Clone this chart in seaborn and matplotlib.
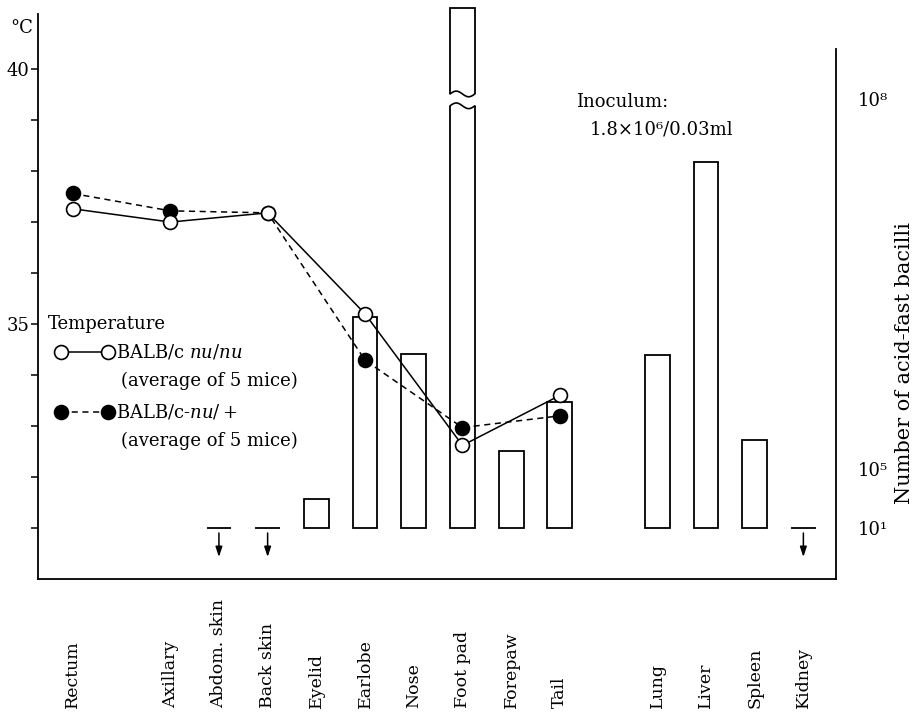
import numpy as np
import pandas as pd
import matplotlib
matplotlib.use('Agg')
import matplotlib.pyplot as plt
from matplotlib.patches import Rectangle
from matplotlib.transforms import blended_transform_factory, offset_copy
import seaborn as sns

# sites along the x axis and their slot positions
sites = ['Rectum', 'Axillary', 'Abdom. skin', 'Back skin', 'Eyelid', 'Earlobe', 'Nose',
         'Foot pad', 'Forepaw', 'Tail', 'Lung', 'Liver', 'Spleen', 'Kidney']
site_pos = [0, 2, 3, 4, 5, 6, 7, 8, 9, 10, 12, 13, 14, 15]

# temperature, degrees C
temp_sites = ['Rectum', 'Axillary', 'Back skin', 'Earlobe', 'Foot pad', 'Tail']
temp_nunu = [37.26, 37.0, 37.18, 35.2, 32.62, 33.6]
temp_nuplus = [37.56, 37.22, 37.18, 34.29, 32.97, 33.2]

# number of acid-fast bacilli
bac_sites = ['Eyelid', 'Earlobe', 'Nose', 'Foot pad', 'Forepaw', 'Tail', 'Lung', 'Liver', 'Spleen']
bac_counts = [9e2, 1.7e6, 8.5e5, 5.5e8, 1.4e5, 3.5e5, 8.4e5, 3.1e7, 1.7e5]
nd_sites = ['Abdom. skin', 'Back skin', 'Kidney']   # below detection (10^1)
detect_limit = 10

right_ticks = [1e1, 1e5, 1e8]
right_ticklabels = ['10\u00b9', '10\u2075', '10\u2078']

pos = dict(zip(sites, site_pos))

sns.set_style('ticks')
plt.rcParams.update({
    'font.family': ['DejaVu Serif'],
    'mathtext.fontset': 'dejavuserif',
    'axes.edgecolor': 'black', 'text.color': 'black',
    'xtick.color': 'black', 'ytick.color': 'black',
    'axes.linewidth': 1.3,
})

fig = plt.figure(figsize=(9.23, 7.12), dpi=100)
ax = fig.add_axes([38 / 923, 1 - 579 / 712, 798 / 923, 565 / 712])
ax.set_xlim(-0.715, 15.67)
ax.set_ylim(30, 41.08)

# right axis: log counts, compressed below 10^5 (as in the original figure)
LOG_KNOTS = np.array([1.0, 5.0, 8.0])
POS_KNOTS = np.array([31.0, 32.16, 39.41])
lo_slope = (POS_KNOTS[1] - POS_KNOTS[0]) / (LOG_KNOTS[1] - LOG_KNOTS[0])
hi_slope = (POS_KNOTS[2] - POS_KNOTS[1]) / (LOG_KNOTS[2] - LOG_KNOTS[1])


def fwd(v):
    lv = np.log10(np.maximum(np.asarray(v, float), 1e-12))
    out = np.interp(lv, LOG_KNOTS, POS_KNOTS)
    out = np.where(lv < LOG_KNOTS[0], POS_KNOTS[0] + (lv - LOG_KNOTS[0]) * lo_slope, out)
    out = np.where(lv > LOG_KNOTS[-1], POS_KNOTS[-1] + (lv - LOG_KNOTS[-1]) * hi_slope, out)
    return out


def inv(p):
    p = np.asarray(p, float)
    lv = np.interp(p, POS_KNOTS, LOG_KNOTS)
    lv = np.where(p < POS_KNOTS[0], LOG_KNOTS[0] + (p - POS_KNOTS[0]) / lo_slope, lv)
    lv = np.where(p > POS_KNOTS[-1], LOG_KNOTS[-1] + (p - POS_KNOTS[-1]) / hi_slope, lv)
    return 10 ** lv


ax2 = ax.twinx()
ax2.set_yscale('function', functions=(fwd, inv))
ax2.set_ylim(float(inv(30)), float(inv(41.08)))
ax.set_zorder(ax2.get_zorder() + 1)
ax.patch.set_visible(False)

# bars
bw = 0.51
bx = [pos[s] for s in bac_sites]
ax2.bar(bx, np.array(bac_counts) - detect_limit, bottom=detect_limit, width=bw,
        facecolor='white', edgecolor='black', linewidth=1.3, clip_on=False, zorder=2)

# broken foot pad bar
bt = blended_transform_factory(ax2.transData, ax2.transAxes)
fx = pos['Foot pad']
gc, gh = 0.848, 0.0105
ax2.add_patch(Rectangle((fx - bw / 2 - 0.05, gc - gh), bw + 0.1, 2 * gh, transform=bt,
                        facecolor='white', edgecolor='none', zorder=3, clip_on=False))
wx = np.linspace(fx - bw / 2, fx + bw / 2, 40)
wave = 0.005 * np.sin(np.linspace(0, 2 * np.pi, 40))
for yc in (gc - gh, gc + gh):
    ax2.plot(wx, yc + wave, transform=bt, color='black', lw=1.2, zorder=4, clip_on=False)

# not detected sites: dash at 10^1 and arrow down
for s in nd_sites:
    x = pos[s]
    ax2.hlines(detect_limit, x - bw / 2, x + bw / 2, color='black', lw=1.3, zorder=2)
    tail = offset_copy(ax2.transData, fig=fig, y=-5, units='dots')
    head = offset_copy(ax2.transData, fig=fig, y=-29, units='dots')
    ax2.annotate('', xy=(x, detect_limit), xycoords=head,
                 xytext=(x, detect_limit), textcoords=tail,
                 arrowprops=dict(arrowstyle='-|>,head_length=0.6,head_width=0.2',
                                 color='black', lw=1.1, shrinkA=0, shrinkB=0))

# temperature lines
df_plus = pd.DataFrame({'x': [pos[s] for s in temp_sites], 't': temp_nuplus})
df_nunu = pd.DataFrame({'x': [pos[s] for s in temp_sites], 't': temp_nunu})
sns.lineplot(data=df_plus, x='x', y='t', ax=ax, color='black', lw=1.1, ls=(0, (4, 3)),
             marker='o', markersize=10, markerfacecolor='black', markeredgecolor='black',
             markeredgewidth=1.2, zorder=5)
sns.lineplot(data=df_nunu, x='x', y='t', ax=ax, color='black', lw=1.1, ls='-',
             marker='o', markersize=10, markerfacecolor='white', markeredgecolor='black',
             markeredgewidth=1.2, zorder=6)

# axes styling
ax.spines['top'].set_visible(False)
ax.spines['right'].set_visible(False)
ax2.spines['top'].set_visible(False)
ax2.spines['left'].set_visible(False)
ax2.spines['bottom'].set_visible(False)
ax2.spines['right'].set_bounds(float(inv(30)), float(inv(40.39)))
ax.set_xlabel('')
ax.set_ylabel('')
ax.set_xticks([])
ax.set_yticks([35, 40])
ax.set_yticks(np.arange(31, 41), minor=True)
ax.tick_params(axis='y', which='both', direction='out', length=5, width=1.1,
               labelsize=13, pad=1)
ax2.set_yticks(right_ticks, labels=right_ticklabels)
ax2.yaxis.set_minor_locator(matplotlib.ticker.NullLocator())
ax2.tick_params(axis='y', which='both', length=0, labelsize=13, pad=16)

ax.text(-0.006, 0.975, '\u00b0C', transform=ax.transAxes, ha='right', va='center', fontsize=13)
fig.text(905 / 923, 0.49, 'Number of acid-fast bacilli', rotation=90,
         ha='center', va='center', fontsize=15)

# site labels, reading upward from the bottom edge
lt = blended_transform_factory(ax.transData, fig.transFigure)
for s, x in zip(sites, site_pos):
    ax.text(x, 0.006, s, transform=lt, rotation=90, rotation_mode='anchor',
            ha='left', va='center', fontsize=12.5)

# inoculum note
ax.text(0.674, 0.844, 'Inoculum:', transform=ax.transAxes, ha='left', va='center', fontsize=13)
ax.text(0.692, 0.795, '1.8\u00d710\u2076/0.03ml', transform=ax.transAxes,
        ha='left', va='center', fontsize=13)

# legend drawn by hand
ax.text(0.0125, 0.451, 'Temperature', transform=ax.transAxes, ha='left', va='center', fontsize=13)
for yrow, fc, ls, strain in [(0.402, 'white', '-', 'BALB/c $\\it{nu/nu}$'),
                             (0.296, 'black', (0, (4, 3)), 'BALB/c-$\\it{nu/+}$')]:
    ax.plot([0.0288, 0.0877], [yrow, yrow], transform=ax.transAxes, color='black', lw=1.1,
            ls=ls, marker='o', markersize=10, markerfacecolor=fc, markeredgecolor='black',
            markeredgewidth=1.2, clip_on=False)
    ax.text(0.0977, yrow, strain, transform=ax.transAxes, ha='left', va='center', fontsize=13)
    ax.text(0.104, yrow - 0.052, '(average of 5 mice)', transform=ax.transAxes,
            ha='left', va='center', fontsize=13)

fig.savefig('out.png', dpi=100)
